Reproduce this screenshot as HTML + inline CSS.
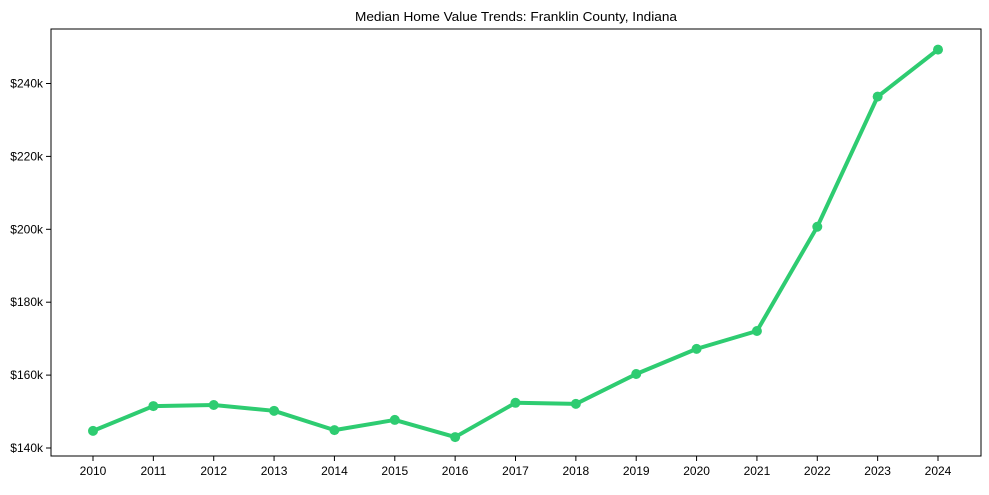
<!DOCTYPE html>
<html><head><meta charset="utf-8"><style>
body{margin:0;background:#fff;}
svg text{font-family:"Liberation Sans",Arial,sans-serif;fill:#000;}
</style></head><body>
<svg id="chart" width="989" height="490">
<text x="516" y="21" font-size="13" text-anchor="middle" textLength="322" lengthAdjust="spacingAndGlyphs">Median Home Value Trends: Franklin County, Indiana</text>
<g id="axes"></g>
<g id="series"></g>
<rect x="51" y="29" width="930" height="427" fill="none" stroke="#000" stroke-width="1"/>
</svg>
<script>
const years=[2010,2011,2012,2013,2014,2015,2016,2017,2018,2019,2020,2021,2022,2023,2024];
const values=[144.7,151.5,151.8,150.2,144.9,147.7,143.0,152.4,152.1,160.3,167.2,172.1,200.7,236.4,249.3];
const yTicks=[140,160,180,200,220,240];
const ns="http://www.w3.org/2000/svg";
const x=i=>93+i*(938-93)/14;
const y=v=>448-(v-140)*72.9/20;
const ax=document.getElementById('axes'), se=document.getElementById('series');
function mk(tag,attrs,parent){const e=document.createElementNS(ns,tag);for(const k in attrs)e.setAttribute(k,attrs[k]);parent.appendChild(e);return e;}
yTicks.forEach(t=>{
  const l=mk('line',{x1:46,x2:51,y1:y(t),y2:y(t),stroke:'#000'},ax);
  
  
  const tx=mk('text',{x:43,y:y(t)+4,'font-size':12,'text-anchor':'end'},ax);
  tx.textContent='$'+t+'k';
  
  
});
years.forEach((yr,i)=>{
  const l=mk('line',{x1:x(i),x2:x(i),y1:456,y2:461,stroke:'#000'},ax);
  
  
  const tx=mk('text',{x:x(i),y:475,'font-size':12,'text-anchor':'middle'},ax);
  tx.textContent=yr;
  
  
});
const p=mk('polyline',{points:values.map((v,i)=>x(i)+','+y(v)).join(' '),fill:'none',stroke:'#2ecc71','stroke-width':4,'stroke-linejoin':'round'},se);


values.forEach((v,i)=>{
  const c=mk('circle',{cx:x(i),cy:y(v),r:5,fill:'#2ecc71'},se);
  
  
});
</script>
</body></html>
